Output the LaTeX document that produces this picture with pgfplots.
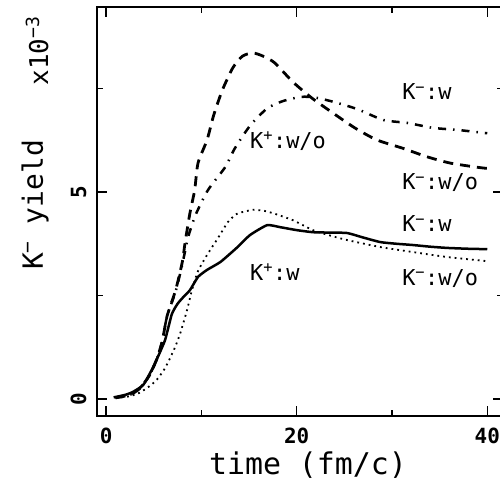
\documentclass[border=0pt]{standalone}
\usepackage{fontspec}
\setmainfont{DejaVu Sans Mono}
\usepackage{pgfplots}
\pgfplotsset{compat=1.18}
\usetikzlibrary{calc}

\begin{document}
\begin{tikzpicture}
\begin{axis}[
  name=ax, at={(0,0)}, anchor=south west,
  scale only axis, width=405.5bp, height=409bp,
  xmin=-0.95, xmax=41.6, ymin=-0.41, ymax=9.47,
  xtick={0,20,40}, minor xtick={10,30},
  ytick={0,5}, minor ytick={2.5,7.5},
  tick align=inside,
  major tick length=10bp, minor tick length=6bp,
  axis line style={line width=1.2bp},
  every tick/.style={black, line width=1.2bp},
  /pgf/number format/assume math mode=true,
  tick label style={font=\fontsize{21}{21}\selectfont\bfseries},
  yticklabel style={rotate=90, anchor=south},
  yticklabel shift=7bp,
  xticklabel shift=8bp,
  clip=false,
]
% solid
\addplot[black, line width=2.5bp, smooth, tension=0.3] coordinates {
  (0.8,0.04)(2.0,0.10)(2.8,0.17)(3.9,0.34)(4.9,0.75)(5.5,1.05)(6.2,1.43)
  (6.9,2.05)(7.5,2.30)(8.1,2.46)(8.8,2.63)(9.65,2.95)(10.6,3.12)(12.0,3.31)
  (13.7,3.65)(15.1,3.96)(16.9,4.20)(18.3,4.15)(20.0,4.08)(21.7,4.03)
  (23.5,4.02)(25.3,4.01)(27.0,3.90)(28.8,3.79)(30.5,3.75)(32.2,3.72)
  (34.0,3.68)(35.8,3.65)(38.0,3.63)(40.0,3.62)};
% dotted
\addplot[black, line width=1.8bp, dash pattern=on 1.8bp off 4bp, smooth, tension=0.4] coordinates {
  (1.0,0.02)(2.5,0.07)(3.5,0.15)(4.5,0.30)(5.3,0.46)(6.2,0.75)(7.2,1.23)
  (7.8,1.60)(8.5,2.15)(9.0,2.62)(9.65,3.09)(10.6,3.48)(11.75,3.89)
  (12.8,4.28)(13.7,4.47)(14.4,4.52)(15.4,4.57)(16.5,4.55)(17.5,4.49)
  (19.6,4.32)(21.7,4.08)(23.5,3.95)(25.3,3.84)(28.8,3.67)(32.2,3.55)
  (35.8,3.43)(40.0,3.33)};
% dashed
\addplot[black, line width=2.8bp, dash pattern=on 10bp off 7bp, smooth, tension=0.4] coordinates {
  (1.0,0.03)(2.5,0.10)(3.5,0.25)(4.5,0.55)(5.3,0.95)(5.9,1.40)(6.4,2.00)
  (7.3,2.63)(8.0,3.31)(8.3,3.79)(8.8,4.49)(9.3,5.05)(9.65,5.70)(10.6,6.26)
  (11.3,6.86)(12.2,7.46)(13.3,8.00)(14.3,8.28)(15.4,8.36)(16.5,8.28)
  (17.7,8.12)(19.6,7.66)(21.6,7.27)(23.8,6.91)(26.1,6.55)(28.4,6.26)
  (31.1,6.06)(33.7,5.85)(36.1,5.70)(38.9,5.60)(40.0,5.57)};
% dash-dot
\addplot[black, line width=2.5bp, dash pattern=on 8bp off 7bp on 1.5bp off 7bp, smooth, tension=0.4] coordinates {
  (1.0,0.03)(2.5,0.10)(3.5,0.25)(4.5,0.55)(5.3,0.95)(5.9,1.40)(6.4,2.00)
  (7.3,2.60)(8.0,3.25)(8.6,3.90)(9.4,4.45)(10.7,5.05)(12.5,5.60)(13.5,6.05)
  (15.1,6.60)(16.9,7.02)(18.6,7.20)(20.5,7.30)(22.0,7.28)(24.0,7.17)
  (26.4,7.00)(29.1,6.74)(31.6,6.67)(34.3,6.55)(36.9,6.50)(40.0,6.42)};

\begin{scope}[every node/.style={anchor=west, inner sep=0pt, font=\fontsize{22}{22}\selectfont}]
\node at (axis cs:31.06,7.42) {K\textsuperscript{−}:w};
\node at (axis cs:15.1,6.23) {K\textsuperscript{+}:w/o};
\node at (axis cs:31.06,5.22) {K\textsuperscript{−}:w/o};
\node at (axis cs:31.06,4.23) {K\textsuperscript{−}:w};
\node at (axis cs:15.1,3.07) {K\textsuperscript{+}:w};
\node at (axis cs:31.06,2.92) {K\textsuperscript{−}:w/o};
\end{scope}
\end{axis}

\node[font=\fontsize{30}{30}\selectfont] at ($(ax.south west)+(211bp,-49bp)$) {time (fm/c)};
\node[rotate=90, font=\fontsize{28}{28}\selectfont] at ($(ax.south west)+(-62bp,211bp)$) {K\textsuperscript{−} yield};
\node[rotate=90, font=\fontsize{26}{26}\selectfont] at ($(ax.south west)+(-60bp,365bp)$) {x10\textsuperscript{−3}};

\pgfresetboundingbox
\path[use as bounding box] ($(ax.south west)+(-97bp,-79bp)$) rectangle ++(500bp,495bp);
\end{tikzpicture}
\end{document}
